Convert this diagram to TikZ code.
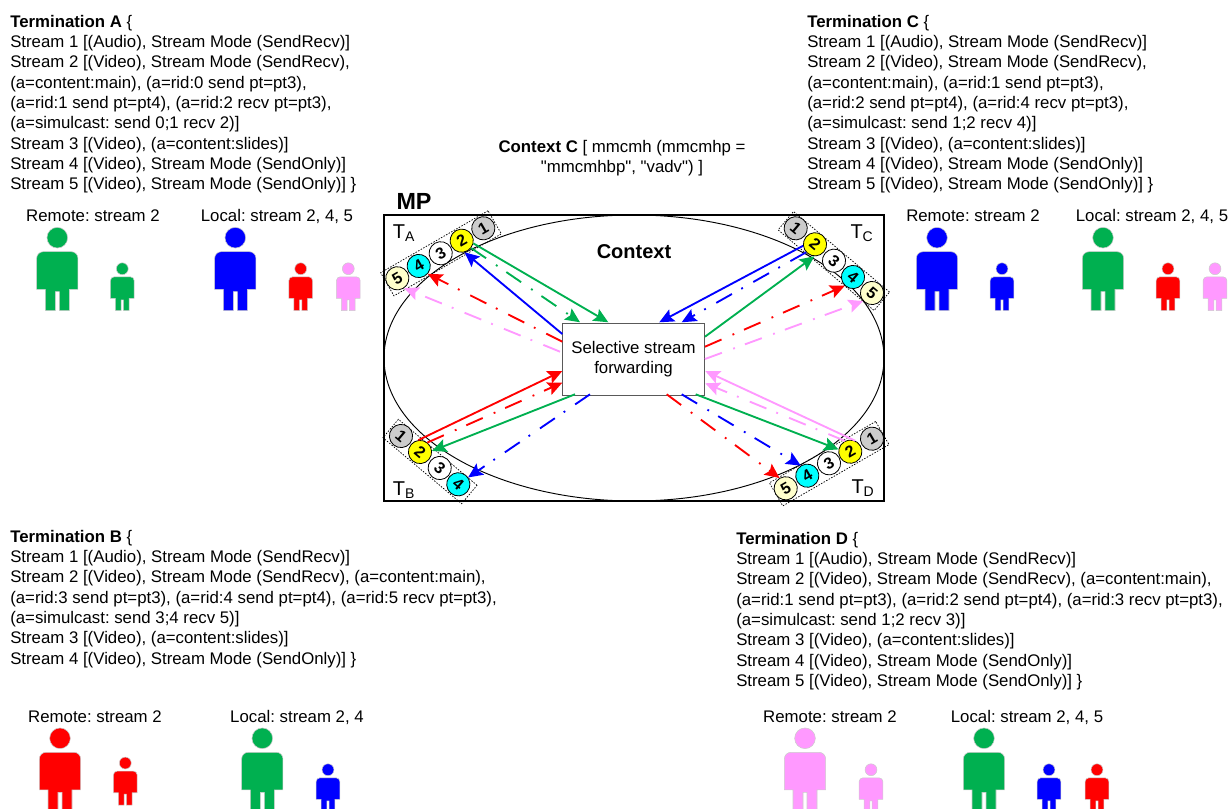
\documentclass[tikz,border=0pt]{standalone}
\usepackage{fontspec}
\setmainfont{Liberation Sans}[Ligatures=TeXOff]
\usepackage{tikz}
\usetikzlibrary{arrows.meta,shapes.geometric}
\definecolor{mpgreen}{HTML}{00B050}
\definecolor{mppink}{HTML}{FF99FF}
\definecolor{mpcream}{HTML}{FFFFCC}
\definecolor{mpgray}{HTML}{CCCCCC}
\definecolor{mpcyan}{HTML}{00FFFF}
\definecolor{mpyellow}{HTML}{FFFF00}
\frenchspacing
\tikzset{
  txtblock/.style={anchor=north west,align=left,inner sep=0pt,font=\fontsize{12.6}{15.2}\selectfont},
  txtcap/.style={inner sep=0pt,font=\fontsize{12.6}{15.2}\selectfont},
  bigtxt/.style={inner sep=0pt,font=\fontsize{15}{18}\selectfont},
  strip/.style={draw,dash pattern=on 1.1pt off 1.1pt,line width=0.55pt,inner sep=0pt},
  port/.style={circle,draw,line width=0.6pt,minimum size=17.4pt,inner sep=0pt,font=\fontsize{12}{12}\selectfont\bfseries},
  flow/.style={line width=1.4pt,-{Stealth[length=11pt,width=10pt,inset=2pt]}},
  sub/.style={flow,dash pattern=on 13.5pt off 9pt on 1.4pt off 8pt}
}
% person: x, top y, scale, colour
\newcommand{\person}[4]{
  \begin{scope}[shift={(#1,#2)},x=#3*0.25pt,y=-#3*0.25pt]
  \fill[#4,draw=gray!40,line width=0.4pt] (0,30) circle (31);
  \fill[#4,draw=gray!40,line width=0.4pt,rounded corners=#3*5pt] (-62,185) -- (-62,72) -- (62,72) [sharp corners] -- (62,185) -- (36,185) -- (36,249) -- (6,249) -- (6,192) -- (-6,192) -- (-6,249) -- (-36,249) -- (-36,185) -- cycle;
  \end{scope}
}
\begin{document}
\begin{tikzpicture}[x=0.75pt,y=-0.75pt]
\useasboundingbox (0,0) rectangle (1229,809);
% text blocks
\node[txtblock] (terma) at (10,15) {\textbf{Termination A} \{\\Stream 1 [(Audio), Stream Mode (SendRecv)]\\Stream 2 [(Video), Stream Mode (SendRecv),\\(a=content:main), (a=rid:0 send pt=pt3),\\(a=rid:1 send pt=pt4), (a=rid:2 recv pt=pt3),\\(a=simulcast: send 0;1 recv 2)]\\Stream 3 [(Video), (a=content:slides)]\\Stream 4 [(Video), Stream Mode (SendOnly)]\\Stream 5 [(Video), Stream Mode (SendOnly)] \}};
\node[txtblock] (termc) at (807,15) {\textbf{Termination C} \{\\Stream 1 [(Audio), Stream Mode (SendRecv)]\\Stream 2 [(Video), Stream Mode (SendRecv),\\(a=content:main), (a=rid:1 send pt=pt3),\\(a=rid:2 send pt=pt4), (a=rid:4 recv pt=pt3),\\(a=simulcast: send 1;2 recv 4)]\\Stream 3 [(Video), (a=content:slides)]\\Stream 4 [(Video), Stream Mode (SendOnly)]\\Stream 5 [(Video), Stream Mode (SendOnly)] \}};
\node[txtblock] (termb) at (10,530) {\textbf{Termination B} \{\\Stream 1 [(Audio), Stream Mode (SendRecv)]\\Stream 2 [(Video), Stream Mode (SendRecv), (a=content:main),\\(a=rid:3 send pt=pt3), (a=rid:4 send pt=pt4), (a=rid:5 recv pt=pt3),\\(a=simulcast: send 3;4 recv 5)]\\Stream 3 [(Video), (a=content:slides)]\\Stream 4 [(Video), Stream Mode (SendOnly)] \}};
\node[txtblock] (termd) at (736,532) {\textbf{Termination D} \{\\Stream 1 [(Audio), Stream Mode (SendRecv)]\\Stream 2 [(Video), Stream Mode (SendRecv), (a=content:main),\\(a=rid:1 send pt=pt3), (a=rid:2 send pt=pt4), (a=rid:3 recv pt=pt3),\\(a=simulcast: send 1;2 recv 3)]\\Stream 3 [(Video), (a=content:slides)]\\Stream 4 [(Video), Stream Mode (SendOnly)]\\Stream 5 [(Video), Stream Mode (SendOnly)] \}};
\node[txtcap,align=center] (ctxc) at (622,158) {\textbf{Context C} [ mmcmh (mmcmhp =\\"mmcmhbp", "vadv") ]};
% MP
\node[bigtxt,font=\fontsize{17.5}{20}\selectfont\bfseries] (mp) at (414,201) {MP};
\node[draw,line width=1.1pt,minimum width=375pt,minimum height=214.5pt,inner sep=0pt] (frame) at (634,358) {};
\node[draw,ellipse,line width=0.7pt,minimum width=375pt,minimum height=214.5pt,inner sep=0pt] (ctxshape) at (634,358) {};
\node[bigtxt,font=\fontsize{15}{18}\selectfont\bfseries] (ctx) at (634,252) {Context};
\node[bigtxt] (ta) at (404,233) {T\textsubscript{A}};
\node[bigtxt] (tc) at (862,233) {T\textsubscript{C}};
\node[bigtxt] (tb) at (404,490) {T\textsubscript{B}};
\node[bigtxt] (td) at (863,488) {T\textsubscript{D}};
\node[draw,gray!70!black,line width=0.6pt,fill=white,text=black,align=center,minimum width=107pt,minimum height=53.5pt,inner sep=0pt,font=\fontsize{12.6}{15.2}\selectfont] (sfu) at (633.5,359.3) {Selective stream\\forwarding};
% strips
\node[strip,rotate=30,minimum width=93pt,minimum height=20pt] (stripa) at (441,253.3) {};
\node[strip,rotate=-40,minimum width=94pt,minimum height=18pt] (stripc) at (833.8,261) {};
\node[strip,rotate=-40,minimum width=77pt,minimum height=18pt] (stripb) at (430,461.5) {};
\node[strip,rotate=30,minimum width=92pt,minimum height=20pt] (stripd) at (829.2,463.7) {};
% ports A
\node[port,fill=mpgray,rotate=30] (a1) at (483.3,228.3) {1};
\node[port,fill=mpyellow,rotate=30] (a2) at (461.7,240.7) {2};
\node[port,fill=white,rotate=30] (a3) at (440.7,253.3) {3};
\node[port,fill=mpcyan,rotate=30] (a4) at (418.7,266) {4};
\node[port,fill=mpcream,rotate=30] (a5) at (397.3,278.3) {5};
% ports C
\node[port,fill=mpgray,rotate=-40] (c1) at (795.7,228.3) {1};
\node[port,fill=mpyellow,rotate=-40] (c2) at (815,244.3) {2};
\node[port,fill=white,rotate=-40] (c3) at (834,260.7) {3};
\node[port,fill=mpcyan,rotate=-40] (c4) at (853,277) {4};
\node[port,fill=mpcream,rotate=-40] (c5) at (872,293) {5};
% ports B
\node[port,fill=mpgray,rotate=-40] (b1) at (401,436) {1};
\node[port,fill=mpyellow,rotate=-40] (b2) at (420,452) {2};
\node[port,fill=white,rotate=-40] (b3) at (439.7,468) {3};
\node[port,fill=mpcyan,rotate=-40] (b4) at (458.3,484.3) {4};
% ports D
\node[port,fill=mpgray,rotate=30] (d1) at (872,438.7) {1};
\node[port,fill=mpyellow,rotate=30] (d2) at (850.3,451.7) {2};
\node[port,fill=white,rotate=30] (d3) at (829,463.3) {3};
\node[port,fill=mpcyan,rotate=30] (d4) at (807.3,475.7) {4};
\node[port,fill=mpcream,rotate=30] (d5) at (785.7,488.3) {5};
% points on the box
\coordinate (sfua1) at (608.3,322.3);
\coordinate (sfua2) at (580,322.3);
\coordinate (sfua3) at (562.3,334);
\coordinate (sfua4) at (562.3,341.7);
\coordinate (sfua5) at (560,351.7);
\coordinate (sfuc1) at (659.3,322.3);
\coordinate (sfuc2) at (681.7,322.3);
\coordinate (sfuc3) at (705,336.7);
\coordinate (sfuc4) at (705,346.7);
\coordinate (sfuc5) at (705,359);
\coordinate (sfub1) at (562.3,371);
\coordinate (sfub2) at (562.3,382.7);
\coordinate (sfub3) at (575,394.3);
\coordinate (sfub4) at (590,394.3);
\coordinate (sfud1) at (705.3,371);
\coordinate (sfud2) at (705.3,383.3);
\coordinate (sfud3) at (695.7,394.3);
\coordinate (sfud4) at (681.7,394.3);
\coordinate (sfud5) at (666.7,394.3);
% flows A
\draw[flow,mpgreen] (a2.-43) -- (sfua1);
\draw[sub,mpgreen] (a2.-68) -- (sfua2);
\draw[flow,blue] (sfua3) -- (a2.-106);
\draw[sub,red] (sfua4) -- (a4.-71);
\draw[sub,mppink] (sfua5) -- (a5.-85);
% flows C
\draw[flow,blue] (c2.227) -- (sfuc1);
\draw[sub,blue] (c2.262) -- (sfuc2);
\draw[flow,mpgreen] (sfuc3) -- (c2.-53);
\draw[sub,red] (sfuc4) -- (c4.-93);
\draw[sub,mppink] (sfuc5) -- (c5.-98);
% flows B
\draw[flow,red] (b2.138) -- (sfub1);
\draw[sub,red] (b2.92) -- (sfub2);
\draw[flow,mpgreen] (sfub3) -- (b2.45);
\draw[sub,blue] (sfub4) -- (b4.75);
% flows D
\draw[flow,mppink] (d2.36) -- (sfud1);
\draw[sub,mppink] (d2.86) -- (sfud2);
\draw[flow,mpgreen] (sfud3) -- (d2.139);
\draw[sub,blue] (sfud4) -- (d4.93);
\draw[sub,red] (sfud5) -- (d5.91);
% people A
\node[txtcap] (rema) at (93,216) {Remote: stream 2};
\node[txtcap] (loca) at (277,216) {Local: stream 2, 4, 5};
\person{57.3}{227.7}{1}{mpgreen}
\person{122.3}{263}{0.575}{mpgreen}
\person{235.3}{227.7}{1}{blue}
\person{300.7}{263}{0.575}{red}
\person{348.3}{263}{0.575}{mppink}
% people C
\node[txtcap] (remc) at (973,216) {Remote: stream 2};
\node[txtcap] (locc) at (1152,216) {Local: stream 2, 4, 5};
\person{937}{227.7}{1}{blue}
\person{1002}{263}{0.575}{blue}
\person{1103}{227.7}{1}{mpgreen}
\person{1168}{263}{0.575}{red}
\person{1215}{263}{0.575}{mppink}
% people B
\node[txtcap] (remb) at (95,717) {Remote: stream 2};
\node[txtcap] (locb) at (297,717) {Local: stream 2, 4};
\person{60}{728.3}{1}{red}
\person{125.3}{757.3}{0.575}{red}
\person{262.3}{728.3}{1}{mpgreen}
\person{328}{764}{0.575}{blue}
% people D
\node[txtcap] (remd) at (830,717) {Remote: stream 2};
\node[txtcap] (locd) at (1027,717) {Local: stream 2, 4, 5};
\person{805}{728.3}{1}{mppink}
\person{871}{764}{0.575}{mppink}
\person{984}{728.3}{1}{mpgreen}
\person{1049}{764}{0.575}{blue}
\person{1097}{764}{0.575}{red}
\end{tikzpicture}
\end{document}
